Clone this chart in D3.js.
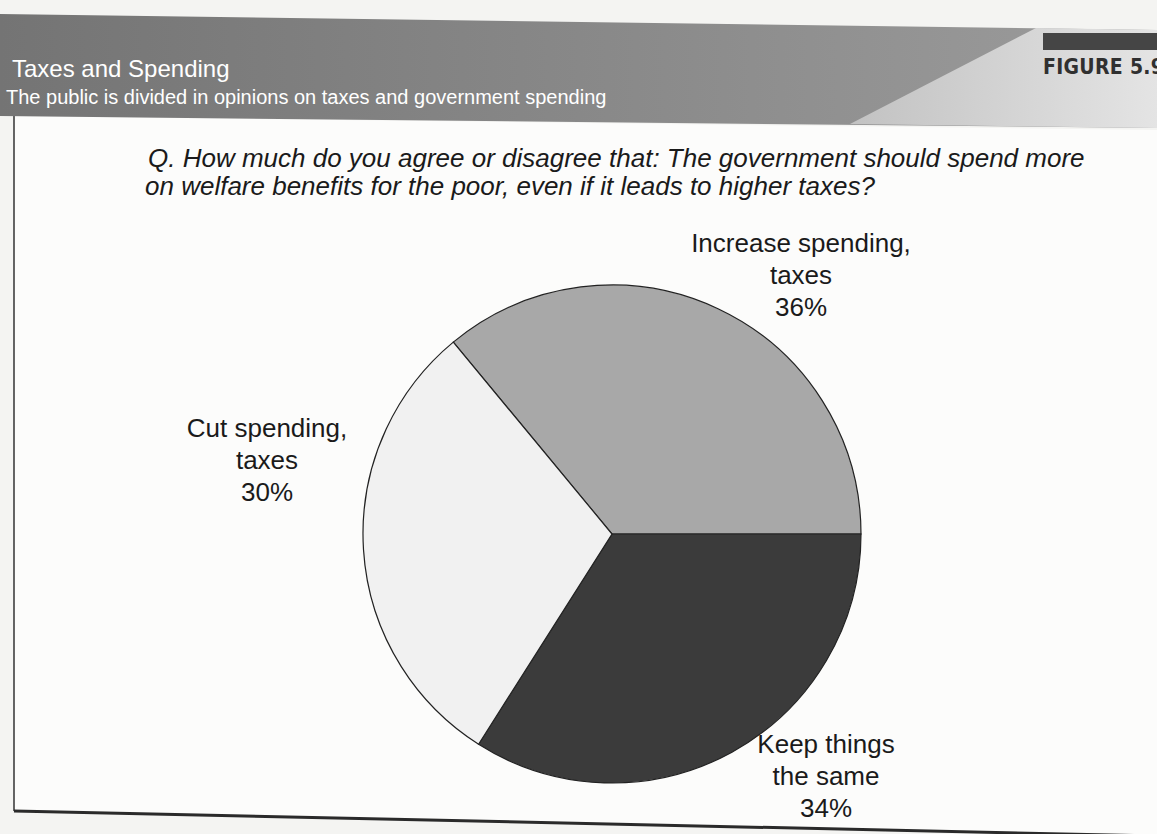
<!DOCTYPE html>
<html>
<head>
<meta charset="utf-8">
<script src="https://cdn.jsdelivr.net/npm/d3@7"></script>
<style>
  body { margin: 0; background: #f4f4f2; }
  svg { display: block; }
</style>
</head>
<body>
<div id="chart"></div>
<script>
// Data
const categories = ["Increase spending, taxes", "Keep things the same", "Cut spending, taxes"];
const values = [36, 34, 30];
const labelLines = [
  ["Increase spending,", "taxes", "36%"],
  ["Keep things", "the same", "34%"],
  ["Cut spending,", "taxes", "30%"]
];
const sliceColors = ["#a8a8a8", "#3b3b3b", "#f1f1f1"];

const W = 1157, H = 834;
const cx = 612, cy = 534, radius = 249;
const font = "Liberation Sans, Arial, sans-serif";

const svg = d3.select("#chart")
  .append("svg")
  .attr("width", W)
  .attr("height", H);

const defs = svg.append("defs");
const grad = defs.append("linearGradient").attr("id", "band");
grad.append("stop").attr("offset", "0%").attr("stop-color", "#747474");
grad.append("stop").attr("offset", "100%").attr("stop-color", "#9c9c9c");
const grad2 = defs.append("linearGradient").attr("id", "light");
grad2.append("stop").attr("offset", "0%").attr("stop-color", "#c2c2c2");
grad2.append("stop").attr("offset", "100%").attr("stop-color", "#e4e4e4");

// page background
svg.append("rect").attr("width", W).attr("height", H).attr("fill", "#f4f4f2");

// white panel (scan is slightly tilted, so the bottom rule slopes)
svg.append("polygon")
  .attr("points", `14,116 ${W},130 ${W},836 14,811`)
  .attr("fill", "#fcfcfb");
svg.append("line")
  .attr("x1", 14).attr("x2", 14).attr("y1", 116).attr("y2", 811)
  .attr("stroke", "#333").attr("stroke-width", 1.5);
svg.append("line")
  .attr("x1", 14).attr("x2", W).attr("y1", 811).attr("y2", 836)
  .attr("stroke", "#2a2a2a").attr("stroke-width", 3);

// header band
svg.append("polygon")
  .attr("points", `0,14 ${W},30 ${W},128 0,116`)
  .attr("fill", "url(#band)");
svg.append("polygon")
  .attr("points", `1036,28 ${W},30 ${W},128 850,124`)
  .attr("fill", "url(#light)");
svg.append("rect")
  .attr("x", 1043).attr("y", 33).attr("width", W - 1043).attr("height", 17)
  .attr("fill", "#454545");
svg.append("text")
  .attr("x", 1043).attr("y", 74)
  .attr("font-family", "DejaVu Sans Condensed, DejaVu Sans")
  .attr("font-weight", "bold")
  .attr("font-stretch", "condensed")
  .attr("font-size", 21)
  .attr("letter-spacing", 0.3)
  .attr("fill", "#303030")
  .text("FIGURE 5.9");

svg.append("text")
  .attr("x", 12).attr("y", 77)
  .attr("font-family", font)
  .attr("font-size", 24)
  .attr("fill", "#fff")
  .text("Taxes and Spending");
svg.append("text")
  .attr("x", 6).attr("y", 104)
  .attr("font-family", font)
  .attr("font-size", 20)
  .attr("fill", "#fff")
  .text("The public is divided in opinions on taxes and government spending");

// question
const q = svg.append("text")
  .attr("font-family", font)
  .attr("font-style", "italic")
  .attr("font-size", 26)
  .attr("fill", "#1a1a1a");
q.append("tspan").attr("x", 148).attr("y", 167)
  .text("Q. How much do you agree or disagree that: The government should spend more");
q.append("tspan").attr("x", 145).attr("y", 195)
  .text("on welfare benefits for the poor, even if it leads to higher taxes?");

// pie
const start = -39.6 * Math.PI / 180;
const pie = d3.pie()
  .sort(null)
  .startAngle(start)
  .endAngle(start + 2 * Math.PI);
const arcs = pie(values);
const arc = d3.arc().innerRadius(0).outerRadius(radius);

const g = svg.append("g").attr("transform", `translate(${cx},${cy})`);
g.selectAll("path")
  .data(arcs)
  .join("path")
  .attr("d", arc)
  .attr("fill", (d, i) => sliceColors[i])
  .attr("stroke", "#222")
  .attr("stroke-width", 1.2);

// labels (placed outside the pie, near each slice)
const labelPos = [[189, -282], [214, 219], [-345, -97]];
const lineH = 32;
g.selectAll("text.lbl")
  .data(arcs)
  .join("text")
  .attr("class", "lbl")
  .attr("text-anchor", "middle")
  .attr("font-family", font)
  .attr("font-size", 26)
  .attr("fill", "#1a1a1a")
  .each(function(d, i) {
    const t = d3.select(this);
    labelLines[i].forEach((s, k) => {
      t.append("tspan")
        .attr("x", labelPos[i][0])
        .attr("y", labelPos[i][1] + k * lineH)
        .text(s);
    });
  });
</script>
</body>
</html>
